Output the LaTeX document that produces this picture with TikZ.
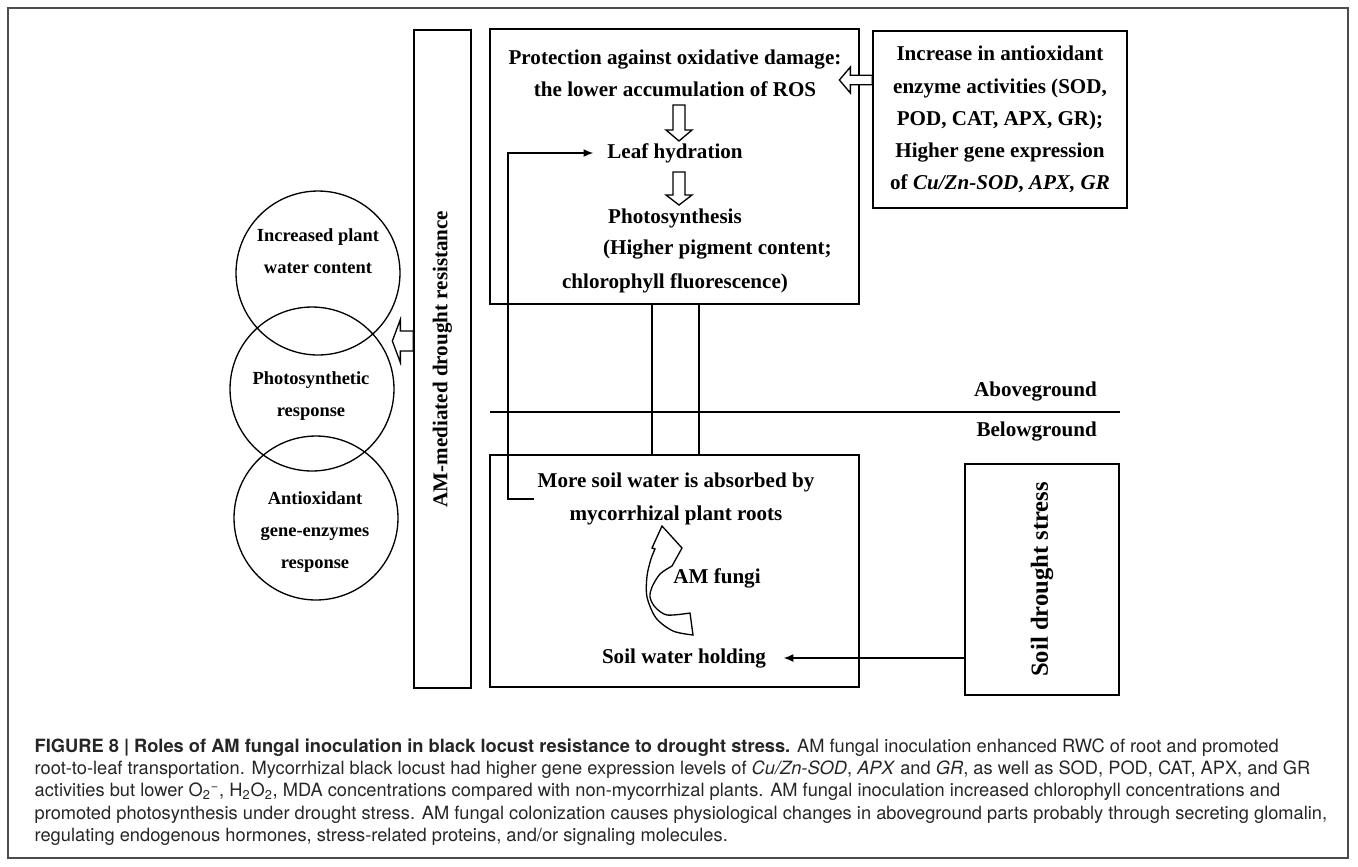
\documentclass[tikz,border=0pt]{standalone}
\usepackage{fontspec}
\setmainfont{Liberation Serif}
\newfontfamily\capfont{TeX Gyre Heros}
\usetikzlibrary{arrows.meta,calc}

% hollow block arrow: start, angle, length, shaft half-width, head half-width, head length
\newcommand{\hollowarrow}[6]{%
  \filldraw[fill=white,shift={(#1)},rotate=#2]
    (0,-#4)--(#3-#6,-#4)--(#3-#6,-#5)--(#3,0)--(#3-#6,#5)--(#3-#6,#4)--(0,#4)--cycle;}

\begin{document}
\begin{tikzpicture}[x=0.02cm,y=-0.02cm,line width=0.75pt]
    \tikzstyle{box} = [draw,rectangle,inner sep=0pt]
    \tikzstyle{txt} = [font=\fontsize{12}{18.3}\selectfont\bfseries,align=center,inner sep=2pt]
    \tikzstyle{smalltxt} = [txt,font=\fontsize{10.5}{18.3}\selectfont\bfseries]
    \tikzstyle{circ} = [draw,circle,minimum size=3.28cm,inner sep=0pt]
    \tikzstyle{pointy} = [arrows=-{Latex[length=5.5pt,width=4.5pt]}]
    \tikzstyle{captxt} = [font=\capfont\fontsize{10.4}{12.7}\selectfont,align=left,
                          anchor=north west,inner sep=0pt,text=black!85]

    \useasboundingbox (0,0) rectangle (1358,866);
    \draw[draw=black!70,line width=1.1pt] (8,8) rectangle (1348,858);

    % overlapping responses
    \node[circ] (c1) at (318,273) {};
    \node[circ] (c2) at (312,389) {};
    \node[circ] (c3) at (316,518) {};
    \node[smalltxt] (t1) at (318,251) {Increased plant\\water content};
    \node[smalltxt] (t2) at (311,396) {Photosynthetic\\response};
    \node[smalltxt] (t3) at (315,532) {Antioxidant\\gene-enzymes\\response};

    \node[box,txt,inner sep=0pt,rotate=90,minimum width=13.16cm,minimum height=1.14cm]
        (amd) at (442.5,359) {AM-mediated drought resistance};

    % aboveground part
    \node[box,minimum width=7.38cm,minimum height=5.5cm] (ros) at (674.5,166.5) {};
    \node[box,txt,minimum width=5.08cm,minimum height=3.54cm] (enz) at (1000,119.5)
        {Increase in antioxidant\\enzyme activities (SOD,\\POD, CAT, APX, GR);\\
         Higher gene expression\\of \textit{Cu/Zn-SOD}, \textit{APX, GR}};
    \node[txt] (prot) at (675,73) {Protection against oxidative damage:\\the lower accumulation of ROS};
    \node[txt] (leaf) at (675,153) {Leaf hydration};
    \node[txt] (photo) at (675,218) {Photosynthesis};
    \node[txt,anchor=west] (pig) at (599,250) {(Higher pigment content;};
    \node[txt] (chl) at (675,283) {chlorophyll fluorescence)};

    % belowground part
    \node[box,minimum width=7.38cm,minimum height=4.64cm] (soil) at (674.5,571) {};
    \node[txt] (more) at (676,499) {More soil water is absorbed by\\mycorrhizal plant roots};
    \node[txt] (fungi) at (717,578) {AM fungi};
    \node[txt] (hold) at (684,658) {Soil water holding};
    \node[box,txt,inner sep=0pt,font=\fontsize{14}{17}\selectfont\bfseries,rotate=90,
          minimum width=4.62cm,minimum height=3.08cm] (sds) at (1042,579.5) {Soil drought stress};

    % ground line
    \coordinate (gl) at (490,412);
    \coordinate (gr) at (1120,412);
    \draw (gl) -- (gr);
    \node[txt,anchor=east] (abv) at (1101,392) {Aboveground};
    \node[txt,anchor=east] (blw) at (1101,432) {Belowground};

    % stem between the two boxes
    \coordinate (sl) at ([xshift=-0.45cm]ros.south);
    \coordinate (sr) at ([xshift=0.49cm]ros.south);
    \draw (sl) -- (sl |- soil.north);
    \draw (sr) -- (sr |- soil.north);

    % connectors
    \coordinate (bend) at (508,499);
    \draw[pointy,shorten >=0.2cm] (more.west) -- (bend) |- (leaf.west);
    \draw[pointy,shorten >=0.27cm] (sds.north |- hold) -- (hold.east);

    \coordinate (a1) at ([yshift=0.36cm]amd.north);
    \coordinate (a2) at ([yshift=0.79cm]enz.west);
    \coordinate (a3) at (679,105);
    \coordinate (a4) at (679,172);
    \hollowarrow{a1}{180}{21}{10}{21.5}{8}
    \hollowarrow{a2}{180}{33}{4.7}{13}{11}
    \hollowarrow{a3}{-90}{36}{6}{13}{11}
    \hollowarrow{a4}{-90}{33}{6}{13}{10}

    % curved arrow next to AM fungi
    \draw (662,526) -- (682,548) -- (672,566)
        -- plot[smooth] coordinates {(672,566) (660,574) (652,587) (650,597) (655,607) (667,615) (690,613)}
        -- (693,635)
        -- plot[smooth] coordinates {(693,635) (673,631) (656,618) (647,597) (647,576) (651,559) (655,549)}
        -- (652,548) -- cycle;

    % caption
    \node[captxt] (caption) at (34,738)
        {\textbf{FIGURE 8 | Roles of AM fungal inoculation in black locust resistance to drought stress.} AM fungal inoculation enhanced RWC of root and promoted\\
         root-to-leaf transportation. Mycorrhizal black locust had higher gene expression levels of \textit{Cu/Zn-SOD}, \textit{APX} and \textit{GR}, as well as SOD, POD, CAT, APX, and GR\\
         activities but lower O\textsubscript{2}\textsuperscript{−}, H\textsubscript{2}O\textsubscript{2}, MDA concentrations compared with non-mycorrhizal plants. AM fungal inoculation increased chlorophyll concentrations and\\
         promoted photosynthesis under drought stress. AM fungal colonization causes physiological changes in aboveground parts probably through secreting glomalin,\\
         regulating endogenous hormones, stress-related proteins, and/or signaling molecules.};
\end{tikzpicture}
\end{document}
